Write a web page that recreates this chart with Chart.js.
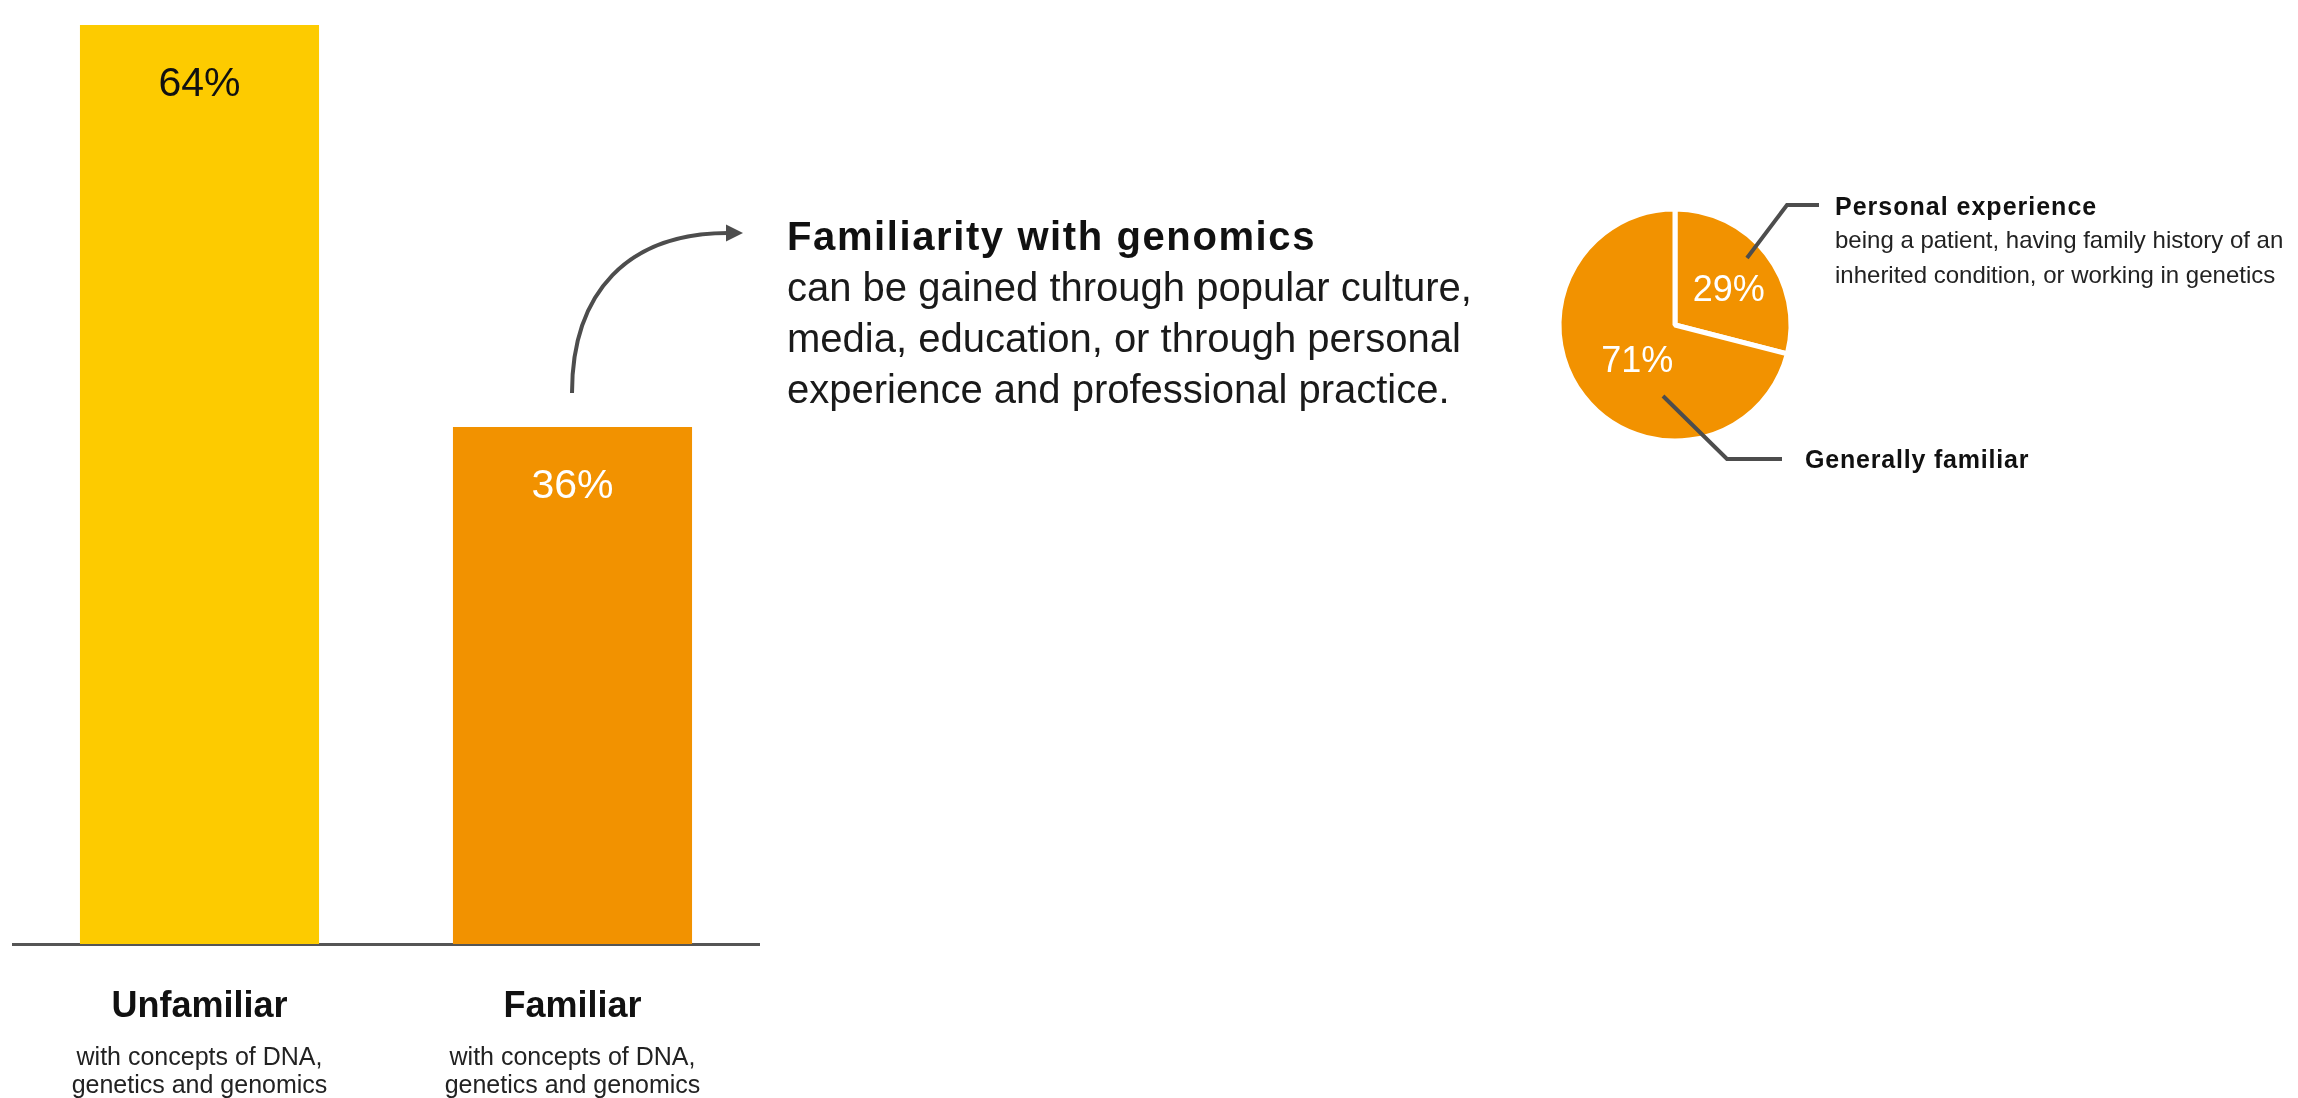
<!DOCTYPE html>
<html lang="en">
<head>
    <meta charset="UTF-8">
    <title>Familiarity with genomics</title>
    <script src="https://cdn.jsdelivr.net/npm/chart.js@4.4.0/dist/chart.umd.min.js"></script>
    <style>
        body {
            margin: 0;
            width: 2298px;
            height: 1098px;
            background: #fff;
            font-family: 'Liberation Sans', Arial, sans-serif;
            color: #111;
            position: relative;
            overflow: hidden;
        }
        canvas, svg, .note { position: absolute; }
        #barChart { left: 0; top: 0; }
        #pieChart { left: 1545px; top: 195px; }
        #marks { left: 0; top: 0; }
        .lead {
            left: 787px; top: 211px;
            font-size: 40px; line-height: 51px; color: #1a1a1a;
        }
        .lead b { letter-spacing: 1.6px; color: #111; }
        .call-title { font-size: 25px; line-height: 30px; font-weight: bold; letter-spacing: 1px; }
        .call-text { font-size: 24px; line-height: 35px; color: #222; }
    </style>
</head>
<body>
    <canvas id="barChart" width="780" height="1098"></canvas>
    <canvas id="pieChart" width="260" height="260"></canvas>

    <svg id="marks" width="2298" height="1098">
        <!-- arrow from the "Familiar" bar to the note -->
        <path d="M572 393 C 572 292, 628 233, 728 233" fill="none" stroke="#4d4d4d" stroke-width="4"/>
        <polygon points="726,224.5 743,233 726,241.5" fill="#4d4d4d"/>
        <!-- pie leader lines -->
        <polyline points="1747,258 1787,205 1819,205" fill="none" stroke="#4d4d4d" stroke-width="4"/>
        <polyline points="1663,396 1727,459 1782,459" fill="none" stroke="#4d4d4d" stroke-width="4"/>
    </svg>

    <div class="note lead"><b>Familiarity with genomics</b><br>can be gained through popular culture,<br>media, education, or through personal<br>experience and professional practice.</div>
    <div class="note call-title" style="left:1835px; top:191px;">Personal experience</div>
    <div class="note call-text" style="left:1835px; top:222px;">being a patient, having family history of an<br>inherited condition, or working in genetics</div>
    <div class="note call-title" style="left:1805px; top:444px; letter-spacing:0.8px;">Generally familiar</div>

    <script>
        // Bar chart data
        const categories = ['Unfamiliar', 'Familiar'];
        const shares = [64, 36];
        const barColors = ['#FDCB00', '#F29200'];
        const valueColors = ['#111111', '#ffffff'];
        const categoryNotes = ['with concepts of DNA,', 'genetics and genomics'];

        // Pie chart data
        const sliceNames = ['Personal experience', 'Generally familiar'];
        const sliceShares = [29, 71];
        const sliceColor = '#F29200';

        const FONT = "'Liberation Sans', Arial, sans-serif";

        const barLabels = {
            id: 'barLabels',
            afterDraw(chart) {
                const ctx = chart.ctx;
                const meta = chart.getDatasetMeta(0);
                const xScale = chart.scales.x;
                ctx.save();
                ctx.textAlign = 'center';
                // values inside bars
                ctx.font = '41px ' + FONT;
                ctx.textBaseline = 'middle';
                meta.data.forEach((bar, i) => {
                    ctx.fillStyle = valueColors[i];
                    ctx.fillText(shares[i] + '%', bar.x, bar.y + 60);
                });
                // notes under the category names
                ctx.font = '25px ' + FONT;
                ctx.textBaseline = 'alphabetic';
                ctx.fillStyle = '#222';
                categories.forEach((c, i) => {
                    const x = xScale.getPixelForTick(i);
                    categoryNotes.forEach((line, j) => {
                        ctx.fillText(line, x, xScale.top + 121 + j * 28);
                    });
                });
                ctx.restore();
            }
        };

        new Chart(document.getElementById('barChart'), {
            type: 'bar',
            data: {
                labels: categories,
                datasets: [{
                    data: shares,
                    backgroundColor: barColors,
                    borderWidth: 0,
                    categoryPercentage: 1,
                    barPercentage: 0.641
                }]
            },
            options: {
                responsive: false,
                animation: false,
                devicePixelRatio: 1,
                layout: { padding: { left: 13, right: 21, top: 25, bottom: 0 } },
                plugins: { legend: { display: false }, tooltip: { enabled: false } },
                scales: {
                    x: {
                        grid: { display: false, drawTicks: false },
                        border: { display: true, color: '#555', width: 3 },
                        ticks: {
                            color: '#111',
                            padding: 41,
                            font: { family: FONT, size: 36, weight: 'bold' }
                        },
                        afterFit(scale) { scale.height = 154; }
                    },
                    y: { display: false, min: 0, max: 64 }
                }
            },
            plugins: [barLabels]
        });

        const pieLabels = {
            id: 'pieLabels',
            afterDraw(chart) {
                const ctx = chart.ctx;
                ctx.save();
                ctx.font = '36px ' + FONT;
                ctx.fillStyle = '#fff';
                ctx.textAlign = 'center';
                ctx.textBaseline = 'middle';
                chart.getDatasetMeta(0).data.forEach((arc, i) => {
                    const p = arc.getCenterPoint();
                    ctx.fillText(sliceShares[i] + '%', p.x + 8, p.y + 2);
                });
                ctx.restore();
            }
        };

        new Chart(document.getElementById('pieChart'), {
            type: 'pie',
            data: {
                labels: sliceNames,
                datasets: [{
                    data: sliceShares,
                    backgroundColor: sliceColor,
                    borderColor: '#ffffff',
                    borderWidth: 5,
                    hoverOffset: 0
                }]
            },
            options: {
                responsive: false,
                animation: false,
                devicePixelRatio: 1,
                radius: 116,
                layout: { padding: 0 },
                plugins: { legend: { display: false }, tooltip: { enabled: false } }
            },
            plugins: [pieLabels]
        });
    </script>
</body>
</html>
